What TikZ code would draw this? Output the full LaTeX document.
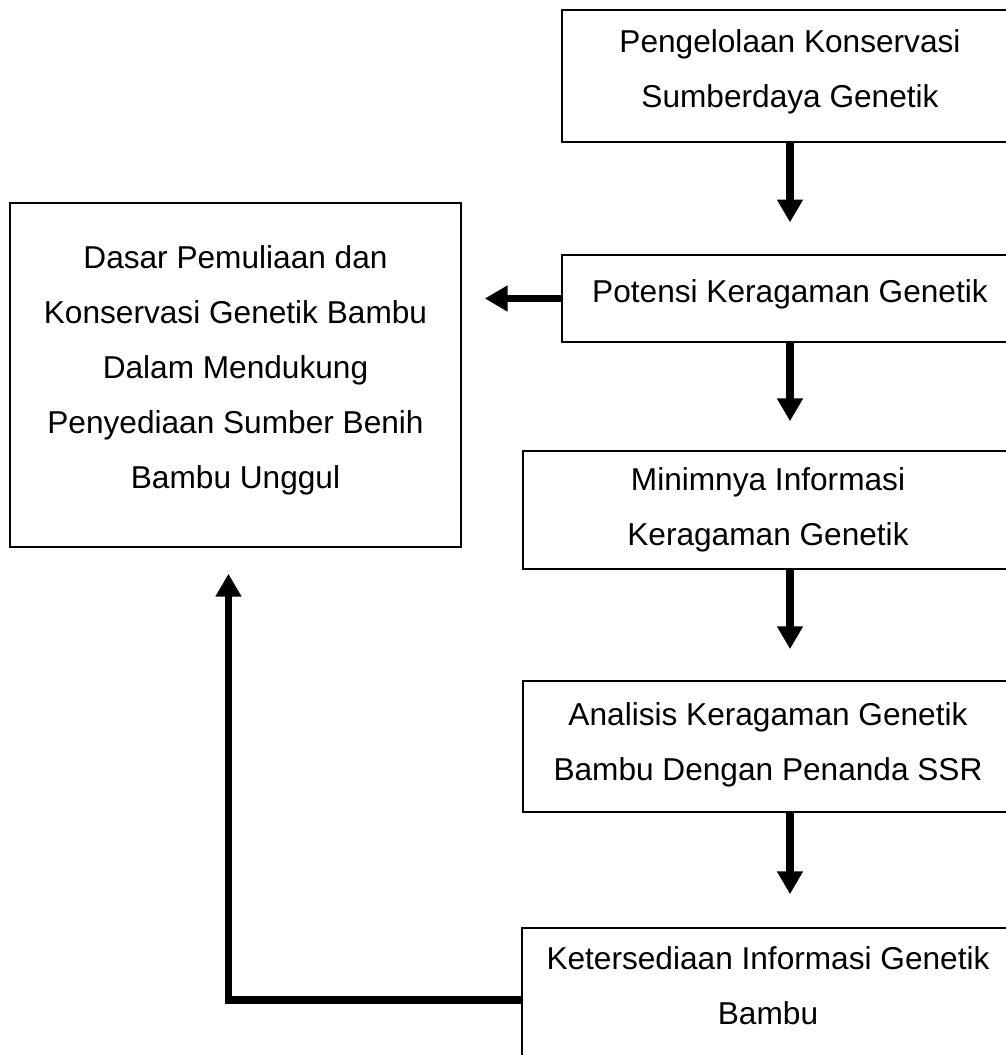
\documentclass[tikz,border=0pt]{standalone}
\usepackage{fontspec}
\setmainfont{Liberation Sans}
\usetikzlibrary{arrows.meta}

\tikzset{
  kotak/.style={draw,line width=1.1pt,rectangle,align=center,inner sep=0pt,
    font={\fontsize{18}{31.2}\selectfont}},
  panah/.style={line width=4.5pt,-{Triangle[width=14pt,length=13pt]},shorten >=17pt},
}

\begin{document}
\begin{tikzpicture}[x=0.02cm,y=-0.02cm]
\useasboundingbox (0,0) rectangle (1006,1055);
\clip (0,0) rectangle (1006,1055);
% kolom kanan
\node[kotak,minimum width=9.12cm,minimum height=2.64cm,text depth=8.5pt] (pengelolaan) at (790,76)
  {Pengelolaan Konservasi\\Sumberdaya Genetik};
\node[kotak,minimum width=9.12cm,minimum height=1.74cm,text depth=8pt] (potensi) at (790,298.5)
  {Potensi Keragaman Genetik};
\node[kotak,minimum width=9.8cm,minimum height=2.36cm] (minim) at (768,510)
  {Minimnya Informasi\\Keragaman Genetik};
\node[kotak,minimum width=9.8cm,minimum height=2.62cm,text depth=5.8pt] (analisis) at (768,746.5)
  {Analisis Keragaman Genetik\\Bambu Dengan Penanda SSR};
\node[kotak,minimum width=9.84cm,minimum height=2.88cm,text depth=16.4pt] (ketersediaan) at (768,1000)
  {Ketersediaan Informasi Genetik\\Bambu};
% kotak kiri
\node[kotak,minimum width=9.02cm,minimum height=6.88cm,text depth=9pt] (dasar) at (235.5,375)
  {Dasar Pemuliaan dan\\Konservasi Genetik Bambu\\Dalam Mendukung\\Penyediaan Sumber Benih\\Bambu Unggul};

\draw[panah,shorten >=18pt] (pengelolaan.south) -- (potensi.north);
\draw[panah,shorten >=16.4pt] (potensi.south) -- (potensi.south |- minim.north);
\draw[panah,shorten >=17.6pt] (minim.south -| potensi.south) -- (analisis.north -| potensi.south);
\draw[panah,shorten >=18.7pt] (analisis.south -| potensi.south) -- (ketersediaan.north -| potensi.south);
\draw[panah,shorten >=13pt] (potensi.west) -- (potensi.west -| dasar.east);
\draw[panah,shorten >=14.7pt] (ketersediaan.west) -| ([xshift=-4pt]dasar.south);
\end{tikzpicture}
\end{document}
